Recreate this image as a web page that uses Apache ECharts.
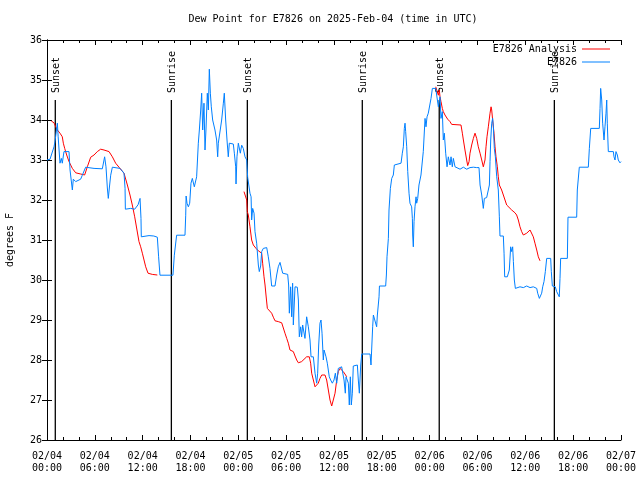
<!DOCTYPE html>
<html>
<head>
<meta charset="utf-8">
<script src="https://cdn.jsdelivr.net/npm/echarts@6/dist/echarts.min.js"></script>
<style>html,body{margin:0;padding:0;background:#fff}#c{width:640px;height:480px}</style>
</head>
<body>
<div id="c"></div>
<script>
// hours since 02/04 00:00 UTC, dew point in degrees F
const xTickLabels = ['02/04\n00:00','02/04\n06:00','02/04\n12:00','02/04\n18:00','02/05\n00:00','02/05\n06:00','02/05\n12:00','02/05\n18:00','02/06\n00:00','02/06\n06:00','02/06\n12:00','02/06\n18:00','02/07\n00:00'];
const yTickLabels = ['26','27','28','29','30','31','32','33','34','35','36'];

const sunHours = [1.04, 15.6, 25.13, 39.55, 49.2, 63.64];
const sunLabels = ['Sunset','Sunrise','Sunset','Sunrise','Sunset','Sunrise'];

const analysisSeg1 = [[0.54,33.975],[0.88,33.93],[1.09,33.83],[1.3,33.75],[1.63,33.67],[1.92,33.58],[2.05,33.42],[2.22,33.29],[2.47,33.125],[2.76,32.96],[3.18,32.79],[3.6,32.68],[4.22,32.65],[4.72,32.625],[5.06,32.83],[5.48,33.07],[5.9,33.125],[6.31,33.21],[6.73,33.27],[7.15,33.25],[7.78,33.21],[8.2,33.08],[8.61,32.92],[9.03,32.82],[9.66,32.67],[10.08,32.375],[10.41,32.125],[10.7,31.875],[11.0,31.58],[11.33,31.2],[11.54,30.96],[11.75,30.83],[11.96,30.67],[12.17,30.5],[12.38,30.33],[12.67,30.17],[13.21,30.14],[13.84,30.125]];
const analysisSeg2 = [[24.71,32.21],[24.96,32.18],[25.05,32.0],[25.13,31.71],[25.25,31.625],[25.46,31.33],[25.67,31.0],[25.88,30.875],[26.22,30.79],[26.51,30.73],[26.72,30.71],[26.93,30.67],[27.05,30.42],[27.22,30.08],[27.35,29.875],[27.47,29.625],[27.64,29.29],[27.89,29.27],[28.18,29.17],[28.39,29.07],[28.6,28.98],[29.01,28.96],[29.44,28.93],[29.64,28.9],[29.85,28.67],[30.07,28.54],[30.27,28.42],[30.48,28.25],[30.69,28.22],[30.9,28.21],[31.11,28.1],[31.32,28.0],[31.53,27.93],[31.74,27.92],[31.94,27.96],[32.15,28.0],[32.57,28.08],[32.9,28.08],[33.07,27.92],[33.2,27.67],[33.41,27.5],[33.62,27.33],[33.83,27.33],[34.03,27.42],[34.24,27.54],[34.46,27.625],[34.66,27.67],[34.87,27.625],[35.08,27.5],[35.29,27.25],[35.5,27.0],[35.71,26.85],[35.91,27.0],[36.13,27.17],[36.34,27.5],[36.54,27.71],[36.75,27.79],[36.96,27.75],[37.17,27.71],[37.38,27.67],[37.6,27.58]];
const analysisSeg3 = [[48.76,34.83],[49.0,34.85],[49.09,34.62],[49.21,34.75],[49.3,34.58],[49.42,34.46],[49.59,34.29],[49.71,34.21],[49.92,34.125],[50.26,34.02],[50.55,33.96],[50.76,33.89],[51.93,33.875],[52.1,33.67],[52.23,33.5],[52.43,33.25],[52.64,33.0],[52.77,32.86],[52.94,32.96],[53.06,33.17],[53.27,33.375],[53.48,33.54],[53.69,33.67],[53.9,33.54],[54.1,33.33],[54.32,33.17],[54.53,33.0],[54.73,32.83],[54.94,33.0],[55.07,33.33],[55.19,33.58],[55.36,33.83],[55.57,34.17],[55.7,34.33],[55.78,34.25],[55.9,34.0],[56.07,33.67],[56.2,33.33],[56.32,33.08],[56.49,32.83],[56.61,32.58],[56.74,32.375],[57.03,32.25],[57.24,32.125],[57.45,32.0],[57.66,31.875],[57.87,31.83],[58.29,31.75],[58.7,31.68],[58.91,31.625],[59.12,31.5],[59.33,31.33],[59.54,31.21],[59.75,31.125],[60.17,31.17],[60.38,31.21],[60.59,31.25],[60.8,31.23],[61.0,31.08],[61.21,30.92],[61.43,30.75],[61.63,30.58],[61.84,30.48]];

const obsDay1 = [[0,33.0],[0.38,33.02],[0.88,33.33],[1.0,33.46],[1.3,33.92],[1.4,33.58],[1.63,32.92],[1.8,33.04],[1.92,32.92],[2.13,33.21],[2.76,33.21],[2.89,32.75],[3.18,32.25],[3.3,32.52],[3.6,32.46],[4.22,32.52],[4.43,32.62],[4.85,32.82],[5.9,32.79],[6.94,32.78],[7.23,33.08],[7.4,32.83],[7.57,32.3],[7.69,32.04],[7.82,32.3],[7.99,32.62],[8.2,32.82],[9.16,32.79],[9.66,32.67],[9.79,32.29],[9.83,31.77],[10.5,31.79],[11.0,31.77],[11.42,31.88],[11.67,32.04],[11.79,31.54],[11.83,31.08],[12.8,31.11],[13.4,31.1],[13.84,31.07],[14.0,30.58],[14.17,30.12],[15.8,30.12],[15.97,30.62],[16.26,31.12],[17.31,31.12],[17.4,31.62],[17.45,32.1],[17.56,31.92],[17.73,31.83],[17.9,31.92],[18.06,32.42],[18.23,32.54],[18.48,32.33],[18.77,32.58],[18.98,33.42],[19.11,33.75],[19.28,34.25],[19.4,34.67],[19.53,33.75],[19.69,34.42],[19.82,33.25],[19.94,33.75],[20.11,34.67],[20.24,34.25],[20.36,35.27],[20.49,34.67],[20.61,34.33],[20.78,34.0],[20.95,34.0],[21.07,33.75],[21.28,33.5],[21.41,33.08],[21.49,33.42],[21.7,33.42],[21.91,34.0],[22.12,34.42],[22.24,34.67],[22.41,34.0],[22.58,33.5],[22.74,33.08],[22.87,33.42],[23.37,33.4],[23.5,33.17],[23.67,32.83],[23.71,32.4],[23.83,33.08]];
const obsDay2 = [[24.0,33.42],[24.25,33.17],[24.42,33.37],[24.62,33.29],[24.84,33.08],[25.05,33.0],[25.17,32.57],[25.34,32.58],[25.46,32.17],[25.6,32.08],[25.67,31.5],[25.8,31.79],[25.97,31.67],[26.09,31.21],[26.3,30.92],[26.51,30.375],[26.63,30.21],[26.8,30.35],[26.93,30.71],[27.13,30.79],[27.56,30.81],[27.76,30.58],[27.97,30.29],[28.18,29.85],[28.6,29.85],[28.81,30.125],[29.01,30.33],[29.23,30.44],[29.44,30.42],[29.56,30.17],[30.19,30.14],[30.31,29.875],[30.4,29.17],[30.56,29.83],[30.69,29.08],[30.81,29.92],[30.9,28.875],[31.11,29.83],[31.4,29.82],[31.53,29.5],[31.65,28.58],[31.82,28.83],[31.94,28.58],[32.07,28.875],[32.24,28.83],[32.36,28.54],[32.57,29.08],[32.78,28.83],[32.99,28.5],[33.12,28.08],[33.41,28.08],[33.62,27.67],[33.83,27.42],[33.95,27.67],[34.08,28.375],[34.24,28.92],[34.37,29.0],[34.5,28.67],[34.66,28.0],[34.75,28.25],[34.87,28.21],[35.0,28.08],[35.16,27.92],[35.41,27.58],[35.58,27.5],[35.79,27.42],[36.0,27.5],[36.17,27.67],[36.34,27.42],[36.54,27.79],[36.75,27.83],[36.96,27.83],[37.17,27.875],[37.26,27.5],[37.42,27.17],[37.51,27.58],[37.67,27.58],[37.8,27.42],[37.92,26.875],[38.05,27.58],[38.17,26.875],[38.3,27.17],[38.42,27.85],[38.64,27.875],[38.93,27.875],[39.05,27.5],[39.18,27.17],[39.35,27.875],[39.48,28.15],[40.52,28.15],[40.64,27.875],[40.85,28.83],[40.94,29.125],[41.35,28.83],[41.44,29.125],[41.65,29.58],[41.7,29.85],[42.48,29.85],[42.57,30.125],[42.65,30.58],[42.82,31.04],[42.9,31.75],[43.07,32.29],[43.24,32.54],[43.44,32.625],[43.57,32.875],[43.74,32.92],[44.41,32.92],[44.57,33.17],[44.7,33.33],[44.82,33.79],[44.91,33.92],[44.99,33.71],[45.12,33.33],[45.25,32.71],[45.41,32.17],[45.53,31.92],[45.74,31.83],[45.83,31.54],[45.87,31.125],[45.95,30.83],[46.04,31.46],[46.16,31.83],[46.29,32.08],[46.37,31.92],[46.5,32.04],[46.66,32.375],[46.91,32.625],[47.2,33.21],[47.42,34.04],[47.54,33.83],[47.67,34.08],[47.83,34.17]];
const obsDay3 = [[48.04,34.21],[48.17,34.54],[48.34,34.79],[48.76,34.79],[48.88,34.75],[49.0,34.83],[49.09,34.33],[49.3,34.58],[49.42,34.04],[49.59,34.21],[49.71,33.5],[49.84,33.67],[50.01,33.17],[50.18,32.83],[50.34,33.08],[50.55,32.875],[50.68,33.08],[50.84,32.83],[50.97,33.04],[51.18,32.83],[51.39,32.81],[51.81,32.77],[52.23,32.82],[52.64,32.77],[53.06,32.81],[53.48,32.82],[53.9,32.81],[54.19,32.81],[54.32,32.375],[54.53,32.125],[54.73,31.79],[54.86,32.04],[55.15,32.06],[55.36,32.08],[55.49,32.375],[55.57,32.96],[55.66,33.5],[55.78,33.92],[55.9,34.04],[55.99,33.83],[56.11,33.29],[56.24,33.08],[56.41,32.58],[56.61,32.25],[56.74,31.58],[56.82,31.1],[57.24,31.1],[57.33,30.67],[57.41,30.08],[57.74,30.08],[57.87,30.125],[57.99,30.25],[58.16,30.83],[58.29,30.71],[58.41,30.83],[58.5,30.46],[58.62,30.0],[58.75,29.79],[59.33,29.83],[59.75,29.81],[60.17,29.85],[60.59,29.81],[61.0,29.83],[61.21,29.79],[61.43,29.79],[61.55,29.67],[61.76,29.54],[61.93,29.58],[62.05,29.67],[62.18,29.83],[62.34,29.96],[62.51,30.21],[62.68,30.54],[63.18,30.54],[63.26,30.21],[63.39,29.85],[63.76,29.83],[63.93,29.71],[64.1,29.67],[64.26,29.58],[64.35,30.04],[64.43,30.54],[65.27,30.54],[65.35,31.57],[66.44,31.57],[66.52,32.25],[66.77,32.82],[67.9,32.82],[68.03,33.29],[68.2,33.79],[69.28,33.79],[69.37,34.29],[69.45,34.79],[69.58,34.5],[69.7,33.92],[69.87,33.5],[69.99,33.83],[70.12,34.17],[70.21,34.5],[70.28,33.92],[70.41,33.21],[71.04,33.21],[71.12,33.08],[71.25,33.0],[71.37,33.21],[71.54,33.125],[71.66,33.0],[71.79,33.04],[71.87,32.93],[72.0,32.96]];

const FONT = '"DejaVu Sans Mono", "Liberation Mono", monospace';
const analysisData = analysisSeg1.concat(['-'], analysisSeg2, ['-'], analysisSeg3);
const obsData = obsDay1.concat(obsDay2, obsDay3);
const sunLineTopValue = 34.5;

const chart = echarts.init(document.getElementById('c'), null, {renderer: 'canvas'});

const xBase = {
  type: 'value', min: 0, max: 72, interval: 6,
  axisLine: {show: true, lineStyle: {color: '#000', width: 1}},
  axisTick: {show: true, inside: true, length: 5, lineStyle: {color: '#000'}},
  minorTick: {show: true, splitNumber: 3, length: 3, lineStyle: {color: '#000'}},
  splitLine: {show: false}, minorSplitLine: {show: false}
};
const yBase = {
  type: 'value', min: 26, max: 36, interval: 1,
  axisLine: {show: true, lineStyle: {color: '#000', width: 1}},
  axisTick: {show: true, inside: true, length: 5, lineStyle: {color: '#000'}},
  splitLine: {show: false}
};

chart.setOption({
  animation: false,
  backgroundColor: '#fff',
  title: {
    text: 'Dew Point for E7826 on 2025-Feb-04 (time in UTC)',
    left: 333, top: 14, textAlign: 'center', padding: 0,
    textStyle: {fontFamily: FONT, fontSize: 10, fontWeight: 'normal', color: '#000'}
  },
  legend: [
    {data: ['E7826 Analysis'], right: 30, top: 44, align: 'right', padding: 0, icon: 'rect',
     itemWidth: 28, itemHeight: 1, textStyle: {fontFamily: FONT, fontSize: 10, color: '#000'}, selectedMode: false},
    {data: ['E7826'], right: 30, top: 57, align: 'right', padding: 0, icon: 'rect',
     itemWidth: 28, itemHeight: 1, textStyle: {fontFamily: FONT, fontSize: 10, color: '#000'}, selectedMode: false}
  ],
  grid: {left: 47, right: 19, top: 40, bottom: 40, containLabel: false, outerBoundsMode: 'none'},
  xAxis: [
    Object.assign({}, xBase, {
      position: 'bottom',
      axisLabel: {show: true, margin: 10, lineHeight: 12, showMinLabel: true, showMaxLabel: true,
        fontFamily: FONT, fontSize: 10, color: '#000',
        formatter: v => xTickLabels[Math.round(v / 6)] || ''}
    }),
    Object.assign({}, xBase, {position: 'top', axisLabel: {show: false}})
  ],
  yAxis: [
    Object.assign({}, yBase, {
      position: 'left',
      name: 'degrees F', nameLocation: 'middle', nameRotate: 90, nameGap: 32,
      nameTextStyle: {fontFamily: FONT, fontSize: 10, color: '#000'},
      axisLabel: {show: true, margin: 5, fontFamily: FONT, fontSize: 10, color: '#000',
        formatter: v => yTickLabels[Math.round(v - 26)] || ''}
    }),
    Object.assign({}, yBase, {position: 'right', axisLabel: {show: false}})
  ],
  series: [
    {
      type: 'custom', name: 'sun', silent: true, z: 1,
      xAxisIndex: 0, yAxisIndex: 0,
      data: sunHours.map(h => [h]),
      encode: {x: 0},
      renderItem: function (params, api) {
        const h = api.value(0);
        const top = api.coord([h, sunLineTopValue]);
        const bot = api.coord([h, 26]);
        return {
          type: 'group',
          children: [
            {type: 'line', shape: {x1: top[0], y1: top[1], x2: bot[0], y2: bot[1]},
             style: {stroke: '#000', lineWidth: 1.3}},
            {type: 'text', x: top[0] + 1, y: top[1] - 7, rotation: Math.PI / 2,
             style: {text: sunLabels[params.dataIndex], align: 'left', verticalAlign: 'middle',
               fill: '#000', fontFamily: FONT, fontSize: 10}}
          ]
        };
      }
    },
    {
      type: 'line', name: 'E7826 Analysis', data: analysisData, z: 2,
      showSymbol: false, symbol: 'none', connectNulls: false,
      itemStyle: {color: '#ff0000'},
      lineStyle: {color: '#ff0000', width: 1}
    },
    {
      type: 'line', name: 'E7826', data: obsData, z: 3,
      showSymbol: false, symbol: 'none',
      itemStyle: {color: '#0080ff'},
      lineStyle: {color: '#0080ff', width: 1}
    }
  ]
});
</script>
</body>
</html>
